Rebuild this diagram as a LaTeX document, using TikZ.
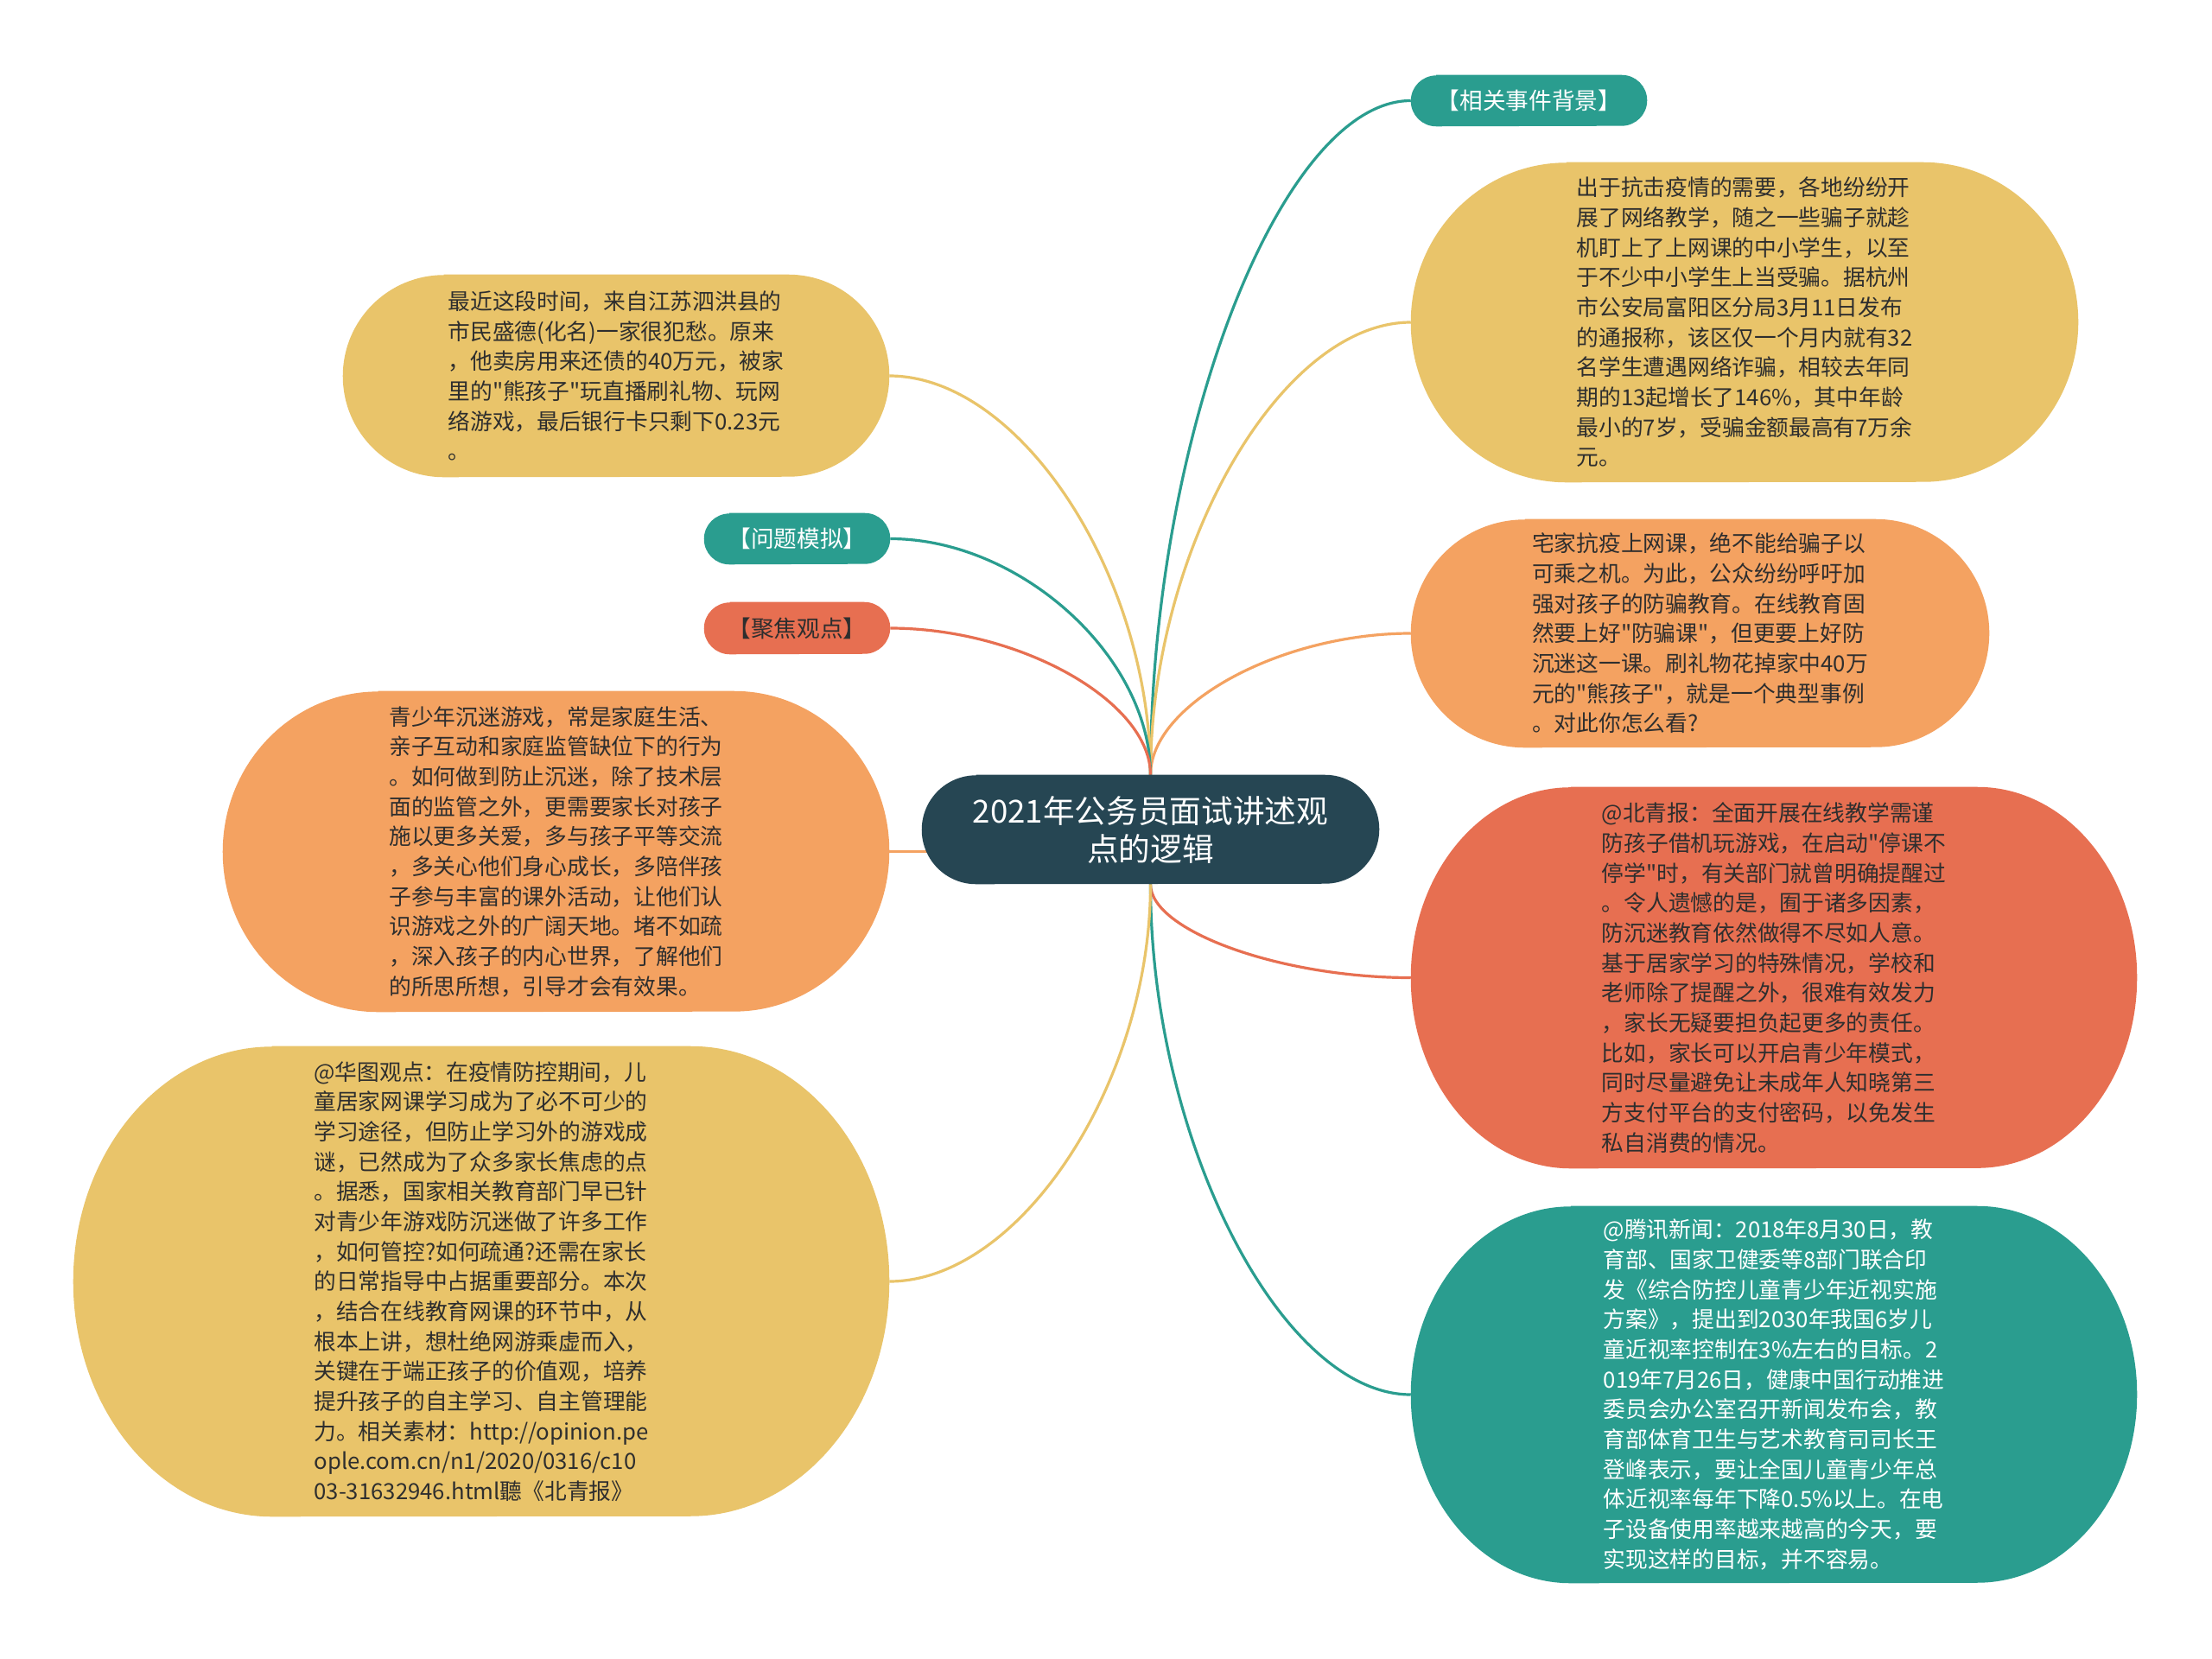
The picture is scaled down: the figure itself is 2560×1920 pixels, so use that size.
\documentclass[tikz,border=0pt]{standalone}
\usepackage{fontspec}
\setmainfont{Noto Sans CJK SC}
\newfontfamily\cjkf{Noto Sans CJK SC}
\usetikzlibrary{calc,backgrounds}
\definecolor{cyel}{HTML}{E9C46A}
\definecolor{cora}{HTML}{F4A261}
\definecolor{cred}{HTML}{E76F51}
\definecolor{cteal}{HTML}{2A9D8F}
\definecolor{cdark}{HTML}{264653}
\definecolor{ctext}{HTML}{2E2E2E}
\newcommand\blobfill[4]{\fill[#2] ([xshift=#3]#1.north west) -- ([xshift=-#3]#1.north east) arc[start angle=90,end angle=-90,x radius=#3,y radius=#4] -- ([xshift=#3]#1.south west) arc[start angle=270,end angle=90,x radius=#3,y radius=#4] -- cycle;}
\newcommand\conn[3]{\draw[link,#3] (#1) .. controls ($(#1)!0.5!(#1|-#2)$) and ($(#2)!0.5!(#1|-#2)$) .. (#2);}
\begin{document}
\begin{tikzpicture}[x=0.75pt,y=-0.75pt,
  box/.style={rectangle,inner sep=0pt,align=left,text=ctext,font=\cjkf\fontsize{19.3pt}{26pt}\selectfont},
  lab/.style={rectangle,inner sep=0pt,align=center,font=\cjkf\fontsize{20pt}{22pt}\selectfont},
  link/.style={line width=2.4pt}]
\useasboundingbox (0,0) rectangle (2560,1920);

\node[rectangle,inner sep=0pt,minimum width=396.75pt,minimum height=94.5pt,align=center,text=white,font=\cjkf\fontsize{27.5pt}{33pt}\selectfont] (c) at (1331.5,960) {2021年公务员面试讲述观\\点的逻辑};

\node[lab,text=white,minimum width=204.75pt,minimum height=44.25pt] (lab1) at (1769.5,116.5) {【相关事件背景】};

\node[box,minimum width=579pt,minimum height=277.5pt] (y1) at (2019,373) {出于抗击疫情的需要，各地纷纷开\\
展了网络教学，随之一些骗子就趁\\
机盯上了上网课的中小学生，以至\\
于不少中小学生上当受骗。据杭州\\
市公安局富阳区分局3月11日发布\\
的通报称，该区仅一个月内就有32\\
名学生遭遇网络诈骗，相较去年同\\
期的13起增长了146\%，其中年龄\\
最小的7岁，受骗金额最高有7万余\\
元。};

\node[box,minimum width=501.75pt,minimum height=198pt] (o1) at (1967.5,733) {宅家抗疫上网课，绝不能给骗子以\\
可乘之机。为此，公众纷纷呼吁加\\
强对孩子的防骗教育。在线教育固\\
然要上好"防骗课"，但更要上好防\\
沉迷这一课。刷礼物花掉家中40万\\
元的"熊孩子"，就是一个典型事例\\
。对此你怎么看?};

\node[box,minimum width=630pt,minimum height=330.75pt] (r1) at (2053,1131.5) {@北青报：全面开展在线教学需谨\\
防孩子借机玩游戏，在启动"停课不\\
停学"时，有关部门就曾明确提醒过\\
。令人遗憾的是，囿于诸多因素，\\
防沉迷教育依然做得不尽如人意。\\
基于居家学习的特殊情况，学校和\\
老师除了提醒之外，很难有效发力\\
，家长无疑要担负起更多的责任。\\
比如，家长可以开启青少年模式，\\
同时尽量避免让未成年人知晓第三\\
方支付平台的支付密码，以免发生\\
私自消费的情况。};

\node[box,text=white,minimum width=630pt,minimum height=327pt] (t1) at (2053,1614) {@腾讯新闻：2018年8月30日，教\\
育部、国家卫健委等8部门联合印\\
发《综合防控儿童青少年近视实施\\
方案》，提出到2030年我国6岁儿\\
童近视率控制在3\%左右的目标。2\\
019年7月26日，健康中国行动推进\\
委员会办公室召开新闻发布会，教\\
育部体育卫生与艺术教育司司长王\\
登峰表示，要让全国儿童青少年总\\
体近视率每年下降0.5\%以上。在电\\
子设备使用率越来越高的今天，要\\
实现这样的目标，并不容易。};

\node[box,minimum width=474pt,minimum height=175.5pt] (y2) at (713,435) {最近这段时间，来自江苏泗洪县的\\
市民盛德(化名)一家很犯愁。原来\\
，他卖房用来还债的40万元，被家\\
里的"熊孩子"玩直播刷礼物、玩网\\
络游戏，最后银行卡只剩下0.23元\\
。};

\node[lab,text=white,minimum width=161.25pt,minimum height=44.25pt] (lab2) at (922.5,623.5) {【问题模拟】};
\node[lab,text=ctext,minimum width=161.25pt,minimum height=45pt] (lab3) at (922.5,727) {【聚焦观点】};

\node[box,minimum width=578.25pt,minimum height=278.25pt] (o2) at (643.5,985.5) {青少年沉迷游戏，常是家庭生活、\\
亲子互动和家庭监管缺位下的行为\\
。如何做到防止沉迷，除了技术层\\
面的监管之外，更需要家长对孩子\\
施以更多关爱，多与孩子平等交流\\
，多关心他们身心成长，多陪伴孩\\
子参与丰富的课外活动，让他们认\\
识游戏之外的广阔天地。堵不如疏\\
，深入孩子的内心世界，了解他们\\
的所思所想，引导才会有效果。};

\node[box,minimum width=708pt,minimum height=408pt] (y3) at (557,1483) {@华图观点：在疫情防控期间，儿\\
童居家网课学习成为了必不可少的\\
学习途径，但防止学习外的游戏成\\
谜，已然成为了众多家长焦虑的点\\
。据悉，国家相关教育部门早已针\\
对青少年游戏防沉迷做了许多工作\\
，如何管控?如何疏通?还需在家长\\
的日常指导中占据重要部分。本次\\
，结合在线教育网课的环节中，从\\
根本上讲，想杜绝网游乘虚而入，\\
关键在于端正孩子的价值观，培养\\
提升孩子的自主学习、自主管理能\\
力。相关素材：http://opinion.pe\\
ople.com.cn/n1/2020/0316/c10\\
03-31632946.html聽《北青报》};

\begin{pgfonlayer}{background}
\fill[white] (0,0) rectangle (2560,1920);
\conn{c.north}{lab1.west}{cteal}
\conn{c.north}{y1.west}{cyel}
\conn{c.north}{o1.west}{cora}
\conn{c.south}{r1.west}{cred}
\conn{c.south}{t1.west}{cteal}
\conn{c.north}{y2.east}{cyel}
\conn{c.north}{lab2.east}{cteal}
\conn{c.north}{lab3.east}{cred}
\draw[link,cora] (o2.east) -- ([xshift=20pt]o2.east -| c.west);
\conn{c.south}{y3.east}{cyel}
\blobfill{c}{cdark}{47.25pt}{47.25pt}
\blobfill{lab1}{cteal}{22.1pt}{22.1pt}
\blobfill{y1}{cyel}{135pt}{138.75pt}
\blobfill{o1}{cora}{99pt}{99pt}
\blobfill{r1}{cred}{138.75pt}{165.4pt}
\blobfill{t1}{cteal}{138.75pt}{163.5pt}
\blobfill{y2}{cyel}{87.75pt}{87.75pt}
\blobfill{lab2}{cteal}{22.1pt}{22.1pt}
\blobfill{lab3}{cred}{22.5pt}{22.5pt}
\blobfill{o2}{cora}{135pt}{139.1pt}
\blobfill{y3}{cyel}{172.5pt}{204pt}
\end{pgfonlayer}
\end{tikzpicture}
\end{document}
